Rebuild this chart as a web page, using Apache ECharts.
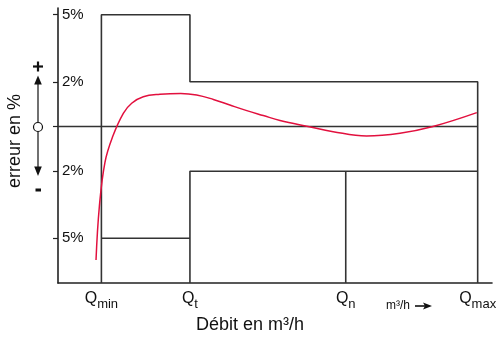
<!DOCTYPE html>
<html>
<head>
<meta charset="utf-8">
<script src="https://cdn.jsdelivr.net/npm/echarts@6/dist/echarts.min.js"></script>
<style>
html,body{margin:0;padding:0;background:#fff;}
#c{width:501px;height:338px;}
</style>
</head>
<body>
<div id="c"></div>
<script>
// Flow rate markers (x positions, arbitrary flow units) and their subscripts
const qSubs = ['min', 't', 'n', 'max'];
const qPos = [10, 30.4, 66.3, 96.7];
// Error limits (%)
const upperLimits = [5, 2];
const lowerLimits = [-5, -2];
// Y tick values and labels
const yTickValues = [5, 2, 0, -2, -5];
const yLabelValues = [5, 2, -2, -5];
// Error curve of the meter
const curveX = [8.76, 9.52, 10.83, 12.6, 15.05, 16.98, 19.65, 23.5, 28.3, 31.96, 35.8, 39.6, 43.5, 47.3, 51.15, 57.6, 63.4, 71.1, 78.8, 86.4, 96.5];
const curveY = [-5.97, -3.60, -1.59, -0.45, 0.59, 1.04, 1.33, 1.44, 1.48, 1.41, 1.21, 0.96, 0.71, 0.49, 0.27, 0, -0.23, -0.42, -0.30, 0, 0.62];

const yMin = -7, yMax = 5.3;
const FONT = '"Liberation Sans", Arial, Helvetica, sans-serif';
const lineStyle = {color: '#333', width: 1.6};

const [qMin, qT, qN, qMax] = qPos;
const upperEnv = [[qMin, yMin], [qMin, upperLimits[0]], [qT, upperLimits[0]], [qT, upperLimits[1]], [qMax, upperLimits[1]], [qMax, yMin]];
const lowerEnv1 = [[qMin, lowerLimits[0]], [qT, lowerLimits[0]]];
const lowerEnv2 = [[qT, yMin], [qT, lowerLimits[1]], [qMax, lowerLimits[1]]];
const qnLine = [[qN, lowerLimits[1]], [qN, yMin]];
const zeroLine = [[0, 0], [qMax, 0]];

function envSeries(data) {
  return {type: 'line', data: data, symbol: 'none', silent: true, lineStyle: lineStyle, z: 2, animation: false};
}

const chart = echarts.init(document.getElementById('c'), null, {renderer: 'canvas'});
chart.setOption({
  animation: false,
  textStyle: {fontFamily: FONT},
  grid: {left: 58, right: 9, top: 8, bottom: 55},
  xAxis: {
    type: 'value', min: 0, max: 100,
    axisLine: {show: true, onZero: false, lineStyle: {color: '#222', width: 1.6}},
    axisTick: {show: false},
    splitLine: {show: false},
    axisLabel: {
      customValues: qPos,
      margin: 8,
      formatter: function (v) {
        const i = qPos.indexOf(v);
        return i < 0 ? '' : '{q|Q}{s|' + qSubs[i] + '}';
      },
      rich: {
        q: {fontSize: 16, fontFamily: FONT, color: '#111', lineHeight: 20, verticalAlign: 'top'},
        s: {fontSize: 13, fontFamily: FONT, color: '#111', lineHeight: 20, verticalAlign: 'bottom'}
      }
    }
  },
  yAxis: {
    type: 'value', min: yMin, max: yMax,
    axisLine: {show: true, onZero: false, lineStyle: {color: '#222', width: 1.6}},
    axisTick: {show: true, customValues: yTickValues, length: 5, inside: false, lineStyle: {color: '#222', width: 1.2}},
    splitLine: {show: false},
    axisLabel: {
      customValues: yLabelValues,
      inside: true, margin: 4,
      fontSize: 15, fontFamily: FONT, color: '#111',
      formatter: function (v) { return Math.abs(v) + '%'; }
    }
  },
  series: [
    envSeries(upperEnv),
    envSeries(lowerEnv1),
    envSeries(lowerEnv2),
    envSeries(qnLine),
    envSeries(zeroLine),
    {
      type: 'line', symbol: 'none', smooth: 0.4, z: 3,
      data: curveX.map((x, i) => [x, curveY[i]]),
      lineStyle: {color: '#e2103e', width: 1.5}
    }
  ],
  graphic: [
    {type: 'text', x: 15, y: 141, rotation: Math.PI / 2,
      style: {text: 'erreur en %', font: '18px ' + FONT, fill: '#111', align: 'center', verticalAlign: 'middle'}},
    {type: 'line', shape: {x1: 33, y1: 66.5, x2: 43, y2: 66.5}, style: {stroke: '#111', lineWidth: 2.2}},
    {type: 'line', shape: {x1: 38, y1: 61.5, x2: 38, y2: 71.5}, style: {stroke: '#111', lineWidth: 2.2}},
    {type: 'polygon', shape: {points: [[38, 75.5], [34.2, 84.5], [41.8, 84.5]]}, style: {fill: '#111'}},
    {type: 'line', shape: {x1: 38, y1: 84, x2: 38, y2: 122}, style: {stroke: '#111', lineWidth: 1.2}},
    {type: 'circle', shape: {cx: 38, cy: 127, r: 4.5}, style: {stroke: '#111', fill: '#fff', lineWidth: 1.2}},
    {type: 'line', shape: {x1: 38, y1: 131.5, x2: 38, y2: 168}, style: {stroke: '#111', lineWidth: 1.2}},
    {type: 'polygon', shape: {points: [[34.2, 166.5], [41.8, 166.5], [38, 176]]}, style: {fill: '#111'}},
    {type: 'rect', shape: {x: 35.5, y: 188.5, width: 5.5, height: 3}, style: {fill: '#111'}},
    {type: 'text', x: 386, y: 306,
      style: {text: 'm³/h', font: '12px ' + FONT, fill: '#111', align: 'left', verticalAlign: 'middle'}},
    {type: 'line', shape: {x1: 415, y1: 306, x2: 425, y2: 306}, style: {stroke: '#111', lineWidth: 1.6}},
    {type: 'polygon', shape: {points: [[423, 302.5], [432, 306], [423, 309.5], [425, 306]]}, style: {fill: '#111'}},
    {type: 'text', x: 250, y: 325,
      style: {text: 'Débit en m³/h', font: '18px ' + FONT, fill: '#111', align: 'center', verticalAlign: 'middle'}}
  ]
});
</script>
</body>
</html>
